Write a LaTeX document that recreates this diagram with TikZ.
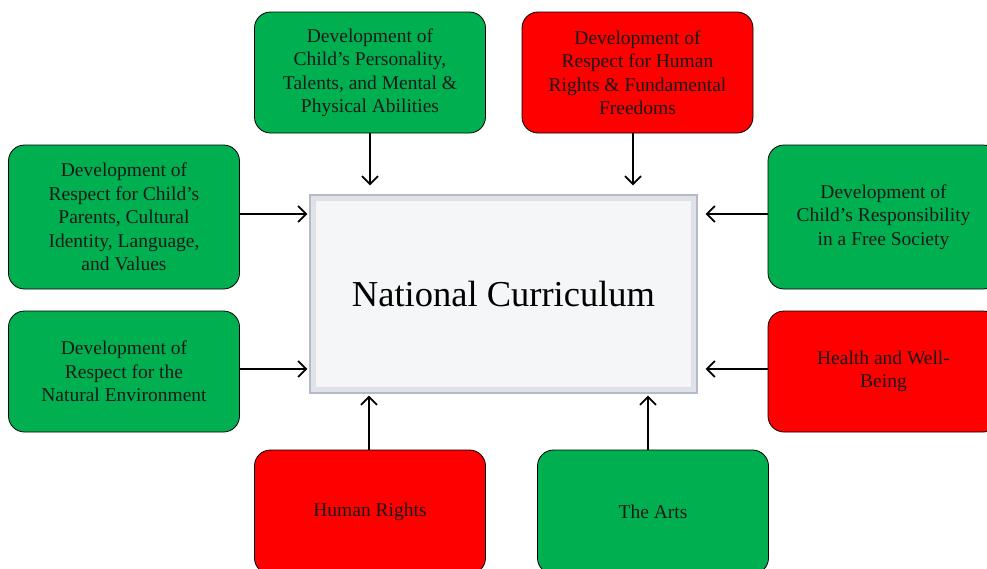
\documentclass[tikz,border=0pt]{standalone}
\usepackage{fontspec}
\setmainfont{Liberation Serif}
\usetikzlibrary{arrows.meta,calc}
\definecolor{boxgreen}{HTML}{00B050}
\definecolor{boxred}{HTML}{FF0000}
\definecolor{panelfill}{HTML}{F5F6F8}
\definecolor{bevel}{HTML}{DFE2E8}
\definecolor{bevelline}{HTML}{B4BBC7}
\tikzset{
  topic/.style={draw=black, line width=0.8pt, rounded corners=16pt,
    minimum width=231pt, align=center, text=black!90,
    font=\fontsize{19.5}{23.5}\selectfont, inner sep=0pt},
  gbox/.style={topic, fill=boxgreen},
  rbox/.style={topic, fill=boxred},
  feed/.style={line width=1.8pt, -{Straight Barb[length=8pt,width=16pt,line width=1.8pt]}},
}
\begin{document}
\begin{tikzpicture}[x=1pt,y=-1pt]
\clip (0,0) rectangle (987,568);
\fill[white] (0,0) rectangle (987,568);

% central panel with bevelled frame
\node[draw=bevelline, line width=1.2pt, fill=bevel, minimum width=387pt,
      minimum height=198pt, inner sep=0pt] (cn) at (503.5,294) {};
\fill[panelfill] ($(cn.north west)+(6,6)$) rectangle ($(cn.south east)+(-6,-6)$);
\draw[bevelline!45, line width=0.5pt] ($(cn.north west)+(6,6)$) rectangle ($(cn.south east)+(-6,-6)$);
\node[font=\fontsize{36.5}{40}\selectfont] (title) at (cn.center) {National Curriculum};

% surrounding topics
\node[gbox, minimum height=121pt] (t1) at (370,72.5)
  {Development of\\Child’s Personality,\\Talents, and Mental \&\\Physical Abilities};
\node[rbox, minimum height=121pt] (t2) at (637.5,72.5)
  {Development of\\Respect for Human\\Rights \& Fundamental\\Freedoms};
\node[gbox, minimum height=144pt] (l1) at (124,217)
  {Development of\\Respect for Child’s\\Parents, Cultural\\Identity, Language,\\and Values};
\node[gbox, minimum height=121pt] (l2) at (124,371.5)
  {Development of\\Respect for the\\Natural Environment};
\node[gbox, minimum height=144pt] (r1) at (883.5,217)
  {Development of\\Child’s Responsibility\\in a Free Society};
\node[rbox, minimum height=121pt] (r2) at (883.5,371.5)
  {Health and Well-\\Being};
\node[rbox, minimum height=124pt] (b1) at (370,512)
  {Human Rights};
\node[gbox, minimum height=124pt] (b2) at (653,512)
  {The Arts};

% connectors into the panel
\draw[feed, shorten >=9pt] (t1.south) -- (t1.south |- cn.north);
\draw[feed, shorten >=9pt] ([xshift=-4.5pt]t2.south) -- ([xshift=-4.5pt]t2.south |- cn.north);
\draw[feed, shorten >=2pt] ([yshift=3pt]l1.east) -- ([yshift=3pt]l1.east -| cn.west);
\draw[feed, shorten >=2pt] ([yshift=2.5pt]l2.east) -- ([yshift=2.5pt]l2.east -| cn.west);
\draw[feed, shorten >=8pt] ([yshift=3pt]r1.west) -- ([yshift=3pt]r1.west -| cn.east);
\draw[feed, shorten >=8pt] ([yshift=2.5pt]r2.west) -- ([yshift=2.5pt]r2.west -| cn.east);
\draw[feed, shorten >=2pt] ([xshift=-1pt]b1.north) -- ([xshift=-1pt]b1.north |- cn.south);
\draw[feed, shorten >=2pt] ([xshift=-5pt]b2.north) -- ([xshift=-5pt]b2.north |- cn.south);
\end{tikzpicture}
\end{document}
